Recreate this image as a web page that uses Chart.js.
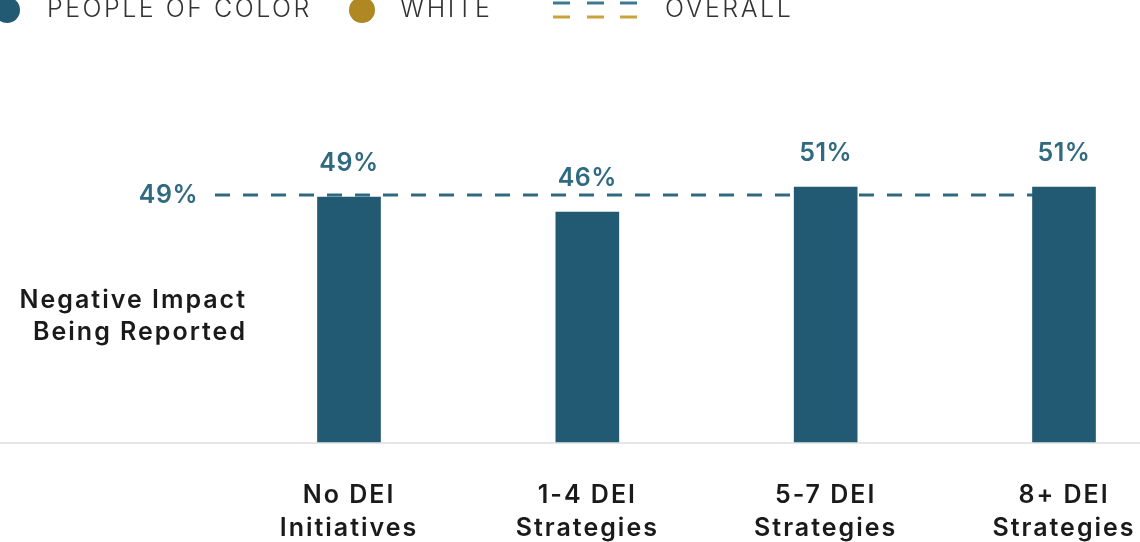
<!DOCTYPE html>
<html>
<head>
<meta charset="utf-8">
<script src="https://cdn.jsdelivr.net/npm/chart.js@4.4.1/dist/chart.umd.min.js"></script>
<style>
  html, body { margin: 0; padding: 0; background: #fff; overflow: hidden; }
  #wrap { width: 1140px; height: 542px; position: relative; }
</style>
</head>
<body>
<div id="wrap"><canvas id="dei-chart" width="1140" height="542"></canvas></div>
<script>
// Data
const categories = [['No DEI', 'Initiatives'], ['1-4 DEI', 'Strategies'], ['5-7 DEI', 'Strategies'], ['8+ DEI', 'Strategies']];
const peopleOfColor = [49, 46, 51, 51];
const overall = 49;
const rowLabel = ['Negative Impact', 'Being Reported'];
const legendItems = ['PEOPLE OF COLOR', 'WHITE', 'OVERALL'];

const BLUE = '#215a72';
const TEAL = '#2f6a80';
const GOLD = '#b08823';
const FONT = 'Inter, "Open Sans", sans-serif';

const overlayPlugin = {
    id: 'overlay',
    beforeDraw(chart) {
        // wider tracking for the category labels (closer to the original typeface)
        chart.ctx.letterSpacing = '2px';
    },
    beforeDatasetsDraw(chart) {
        const { ctx, chartArea, scales } = chart;
        ctx.save();
        ctx.letterSpacing = '0px';
        // baseline
        ctx.strokeStyle = '#e6e6e6';
        ctx.lineWidth = 2;
        ctx.beginPath();
        ctx.moveTo(0, chartArea.bottom + 1);
        ctx.lineTo(chart.width, chartArea.bottom + 1);
        ctx.stroke();

        // overall dashed line
        const y = scales.y.getPixelForValue(overall) - 2;
        ctx.strokeStyle = TEAL;
        ctx.lineWidth = 3;
        ctx.setLineDash([15, 13]);
        ctx.beginPath();
        ctx.moveTo(215, y);
        ctx.lineTo(scales.x.getPixelForValue(3), y);
        ctx.stroke();
        ctx.setLineDash([]);

        ctx.fillStyle = TEAL;
        ctx.font = '600 25px ' + FONT;
        ctx.letterSpacing = '0.5px';
        ctx.textAlign = 'right';
        ctx.textBaseline = 'middle';
        ctx.fillText(overall + '%', 198, y);
        ctx.restore();
    },
    afterDatasetsDraw(chart) {
        const { ctx } = chart;
        ctx.save();
        // value labels
        ctx.fillStyle = TEAL;
        ctx.font = '600 25px ' + FONT;
        ctx.letterSpacing = '0.5px';
        ctx.textAlign = 'center';
        ctx.textBaseline = 'middle';
        chart.getDatasetMeta(0).data.forEach((bar, i) => {
            ctx.fillText(peopleOfColor[i] + '%', bar.x, bar.y - 34);
        });

        // row label
        ctx.fillStyle = '#1a1a1a';
        ctx.font = '600 25px ' + FONT;
        ctx.letterSpacing = '2px';
        ctx.textAlign = 'right';
        ctx.textBaseline = 'alphabetic';
        ctx.fillText(rowLabel[0], 247, 308);
        ctx.fillText(rowLabel[1], 247, 340);

        // legend (cut at top edge)
        ctx.textAlign = 'left';
        ctx.fillStyle = BLUE;
        ctx.beginPath(); ctx.arc(7, 10, 13, 0, Math.PI * 2); ctx.fill();
        ctx.fillStyle = GOLD;
        ctx.beginPath(); ctx.arc(362, 10, 13, 0, Math.PI * 2); ctx.fill();
        ctx.lineWidth = 3;
        [553, 587, 620].forEach(x => {
            ctx.strokeStyle = '#3d7a90';
            ctx.beginPath(); ctx.moveTo(x, 3); ctx.lineTo(x + 17, 3); ctx.stroke();
            ctx.strokeStyle = '#c9a23a';
            ctx.beginPath(); ctx.moveTo(x, 17); ctx.lineTo(x + 17, 17); ctx.stroke();
        });
        ctx.font = '300 25px ' + FONT;
        ctx.letterSpacing = '2.5px';
        ctx.fillStyle = '#333';
        ctx.fillText(legendItems[0], 47, 17);
        ctx.fillText(legendItems[1], 400, 17);
        ctx.fillText(legendItems[2], 665, 17);
        ctx.restore();
    }
};

new Chart(document.getElementById('dei-chart'), {
    type: 'bar',
    data: {
        labels: categories,
        datasets: [{
            label: 'People of Color',
            data: peopleOfColor,
            backgroundColor: BLUE,
            barThickness: 63,
            clip: false
        }]
    },
    options: {
        responsive: false,
        devicePixelRatio: 1,
        animation: false,
        layout: { padding: { left: 349, right: 76, top: 42, bottom: 0 } },
        scales: {
            x: {
                offset: false,
                grid: { display: false },
                border: { display: false },
                ticks: {
                    color: '#1a1a1a',
                    font: { family: FONT, size: 25, weight: '600', lineHeight: '33px' },
                    padding: 29,
                    maxRotation: 0,
                    autoSkip: false
                },
                afterFit: (scale) => {
                    scale.height = 100;
                    scale.paddingLeft = 0;
                    scale.paddingRight = 0;
                }
            },
            y: { display: false, min: 0, max: 80 }
        },
        plugins: {
            legend: { display: false },
            tooltip: { enabled: false }
        }
    },
    plugins: [overlayPlugin]
});
</script>
</body>
</html>
